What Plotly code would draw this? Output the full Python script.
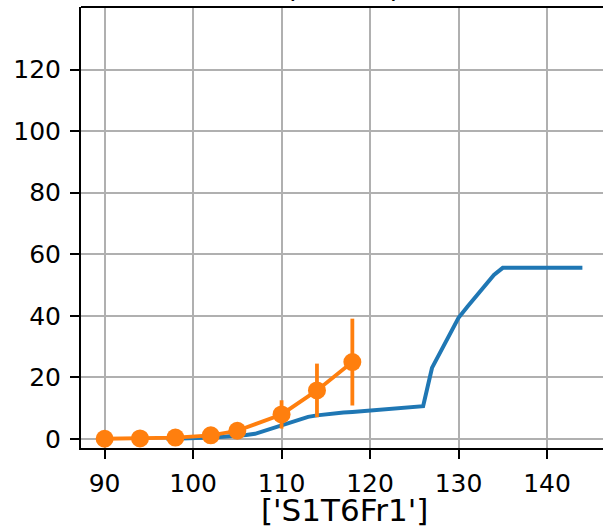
import plotly.graph_objects as go

# Model curve (blue)
model_x = list(range(97, 145))
model_y = [0.0, 0.05, 0.1, 0.2, 0.3, 0.5, 0.65, 0.8, 1.0, 1.3, 1.7, 2.6, 3.5, 4.5,
           5.5, 6.5, 7.2, 7.7, 8.1, 8.4, 8.6, 8.8, 9.0, 9.2, 9.5, 9.7, 10.0, 10.2,
           10.5, 10.7, 23.1, 28.5, 34.0, 39.4, 43.0, 46.5, 50.0, 53.3, 55.6,
           55.6, 55.6, 55.6, 55.6, 55.6, 55.6, 55.6, 55.6, 55.6]

# Observations (orange) with error bars
obs_x = [90, 94, 98, 102, 105, 110, 114, 118]
obs_y = [0.1, 0.2, 0.5, 1.2, 2.7, 8.0, 15.8, 25.0]
obs_err = [0.2, 0.3, 0.5, 0.8, 1.2, 4.6, 8.7, 14.1]

x_ticks = [90, 100, 110, 120, 130, 140]
y_ticks = [0, 20, 40, 60, 80, 100, 120]
x_label = "['S1T6Fr1']"
title_text = "(S1T6F)"

BLUE = "#1f77b4"
ORANGE = "#ff7f0e"

fig = go.Figure()
fig.add_trace(go.Scatter(x=model_x, y=model_y, mode="lines",
                         line=dict(color=BLUE, width=4), showlegend=False))
fig.add_trace(go.Scatter(x=obs_x, y=obs_y, mode="lines+markers",
                         line=dict(color=ORANGE, width=3.8),
                         marker=dict(color=ORANGE, size=18),
                         error_y=dict(type="data", array=obs_err, color=ORANGE,
                                      thickness=3.8, width=0),
                         showlegend=False))

axis_common = dict(showgrid=True, gridcolor="#b0b0b0", gridwidth=2,
                   showline=True, linecolor="black", linewidth=2,
                   ticks="outside", ticklen=9, tickwidth=2, tickcolor="black",
                   zeroline=False, automargin=False,
                   tickfont=dict(family="DejaVu Sans", size=25, color="black"))

fig.update_layout(
    width=603, height=526,
    margin=dict(l=81, r=0, t=7, b=78),
    paper_bgcolor="white", plot_bgcolor="white",
    xaxis=dict(range=[87.33, 146.33], tickvals=x_ticks, ticklabelstandoff=3,
               **axis_common),
    yaxis=dict(range=[-2.9, 140.3], tickvals=y_ticks, ticklabelstandoff=4,
               **axis_common),
    shapes=[dict(type="line", xref="paper", yref="paper", x0=0, x1=1, y0=1, y1=1,
                 line=dict(color="black", width=2))],
    annotations=[
        dict(text=title_text, xref="paper", yref="paper", x=0.502, y=1,
             xanchor="center", yanchor="bottom", yshift=1.5, showarrow=False,
             font=dict(family="DejaVu Sans", size=30, color="black")),
        dict(text=x_label, xref="paper", yref="paper", x=0.504, y=0,
             xanchor="center", yanchor="top", yshift=-42, showarrow=False,
             font=dict(family="DejaVu Sans", size=31, color="black")),
    ],
)

fig.write_html("out.html", config={"displayModeBar": False},
               post_script="document.body.style.margin='0';document.body.style.overflow='hidden';")
